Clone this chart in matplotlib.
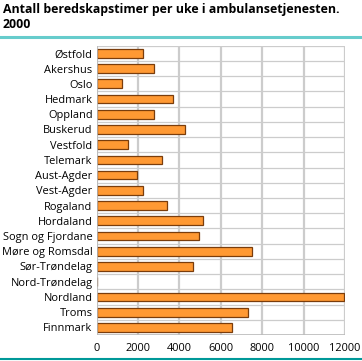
#!/usr/bin/env python3
"""Standby hours per week in the ambulance service, by county, 2000."""

import matplotlib

matplotlib.use("Agg")
import matplotlib.pyplot as plt
from matplotlib.lines import Line2D

counties = [
    "Østfold", "Akershus", "Oslo", "Hedmark", "Oppland", "Buskerud",
    "Vestfold", "Telemark", "Aust-Agder", "Vest-Agder", "Rogaland",
    "Hordaland", "Sogn og Fjordane", "Møre og Romsdal", "Sør-Trøndelag",
    "Nord-Trøndelag", "Nordland", "Troms", "Finnmark",
]
hours = [
    2250, 2780, 1240, 3700, 2780, 4280, 1530, 3170, 1960, 2250,
    3420, 5150, 4960, 7510, 4670, 0, 11950, 7290, 6550,
]
xticks = [0, 2000, 4000, 6000, 8000, 10000, 12000]
title = "Antall beredskapstimer per uke i ambulansetjenesten.\n2000"

W, H = 362, 361
plt.rcParams["font.family"] = ["Open Sans", "DejaVu Sans"]

fig = plt.figure(figsize=(W / 100, H / 100), dpi=100)
ax = fig.add_axes([96.7 / W, 1 - 335 / H, (345 - 96.7) / W, (335 - 45.7) / H])

y = list(range(len(counties)))
ax.barh(y, hours, height=0.57, color="#ff9933", edgecolor="#7a3d0c",
        linewidth=0.9, zorder=3)

ax.set_ylim(len(counties) - 0.5, -0.5)
ax.set_xlim(0, 12000)
ax.set_yticks(y)
ax.set_yticklabels(counties, fontsize=7.9)
ax.set_xticks(xticks)
ax.set_xticklabels([str(v) for v in xticks], fontsize=7.9)
ax.tick_params(length=0, pad=3)
ax.tick_params(axis="x", pad=6)

# gridlines: vertical at ticks, horizontal between categories
for v in xticks:
    ax.axvline(v, color="#cccccc", linewidth=1.6, zorder=1)
for b in range(len(counties) + 1):
    ax.axhline(b - 0.5, color="#cccccc", linewidth=0.9, zorder=1)
for s in ax.spines.values():
    s.set_visible(False)
ax.axvline(0, color="#bbbbbb", linewidth=1.2, zorder=4)
ax.axhline(len(counties) - 0.5, color="#bbbbbb", linewidth=1.2, zorder=4)

fig.text(3 / W, 1 - 3 / H, title, ha="left", va="top", fontsize=8.9,
         fontweight="bold", linespacing=1.2)
fig.add_artist(Line2D([0, 1], [1 - 36.7 / H] * 2, color="#66cccc", linewidth=2.2))
fig.add_artist(Line2D([0, 1], [1 - 359.3 / H] * 2, color="#009999", linewidth=1.5))

fig.savefig("out.png", dpi=100)
